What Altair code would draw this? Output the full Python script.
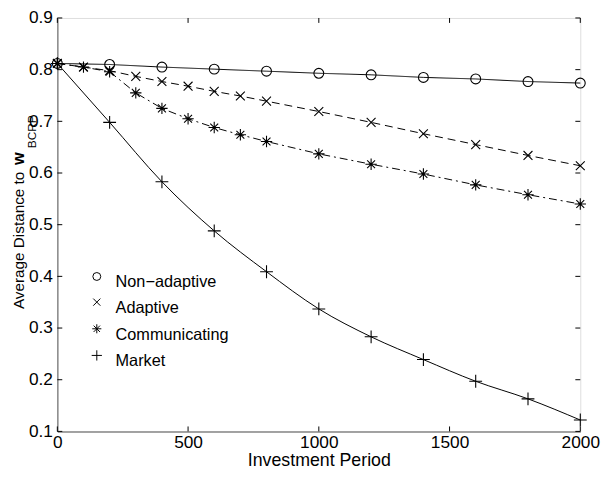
import altair as alt
import pandas as pd

# ---- data ----
x_sparse = [0, 200, 400, 600, 800, 1000, 1200, 1400, 1600, 1800, 2000]
x_dense = [0, 100, 200, 300, 400, 500, 600, 700, 800, 1000, 1200, 1400, 1600, 1800, 2000]

non_adaptive = [0.812, 0.810, 0.805, 0.801, 0.797, 0.793, 0.790, 0.785, 0.782, 0.777, 0.774]
adaptive = [0.812, 0.805, 0.798, 0.787, 0.777, 0.768, 0.758, 0.749, 0.739, 0.719, 0.698, 0.676, 0.655, 0.634, 0.614]
communicating = [0.812, 0.805, 0.796, 0.755, 0.725, 0.705, 0.688, 0.674, 0.661, 0.637, 0.617, 0.598, 0.577, 0.558, 0.540]
market = [0.812, 0.698, 0.583, 0.488, 0.409, 0.337, 0.283, 0.239, 0.197, 0.163, 0.122]

series_names = ["Non\u2212adaptive", "Adaptive", "Communicating", "Market"]
x_ticks = [0, 500, 1000, 1500, 2000]
y_ticks = [0.1, 0.2, 0.3, 0.4, 0.5, 0.6, 0.7, 0.8, 0.9]

rows = []
for xs, ys, name in [(x_sparse, non_adaptive, series_names[0]),
                     (x_dense, adaptive, series_names[1]),
                     (x_dense, communicating, series_names[2]),
                     (x_sparse, market, series_names[3])]:
    for xv, yv in zip(xs, ys):
        rows.append({"period": xv, "dist": yv, "series": name})
df = pd.DataFrame(rows)

W, H = 530, 419
FONT = "Liberation Sans"

shape_range = [
    "circle",
    "M-0.9,-0.9L0.9,0.9M-0.9,0.9L0.9,-0.9",
    "M0,-1.15L0,1.15M-1.15,0L1.15,0M-0.8,-0.8L0.8,0.8M-0.8,0.8L0.8,-0.8",
    "M0,-1.3L0,1.3M-1.3,0L1.3,0",
]
dash_range = [[1, 0], [8, 5], [8, 4, 2, 4], [1, 0]]

xscale = alt.Scale(domain=[0, 2000], nice=False, zero=False)
yscale = alt.Scale(domain=[0.1, 0.9], nice=False, zero=False)

xaxis = alt.Axis(values=x_ticks, ticks=False, grid=False, labelFlush=False, format="d",
                 labelOverlap=False, labelPadding=2, labelFontSize=17.5,
                 title="Investment Period", titleFontSize=18, titleFontWeight="normal",
                 titleBaseline="alphabetic", titleY=35, domainWidth=1.5)
yaxis = alt.Axis(values=y_ticks, ticks=False, grid=False, labelFlush=False,
                 labelOverlap=False, labelPadding=5, labelFontSize=17.5, format=".1f",
                 title=None, domainWidth=1.5)

base = alt.Chart(df)

lines_normal = base.transform_filter(
    alt.datum.series != series_names[3]
).mark_line(color="black", strokeWidth=1).encode(
    x=alt.X("period:Q", scale=xscale, axis=xaxis),
    y=alt.Y("dist:Q", scale=yscale, axis=yaxis),
    strokeDash=alt.StrokeDash("series:N", scale=alt.Scale(domain=series_names, range=dash_range), legend=None),
    detail="series:N",
)

line_market = base.transform_filter(
    alt.datum.series == series_names[3]
).mark_line(color="black", strokeWidth=1, interpolate="monotone").encode(
    x=alt.X("period:Q", scale=xscale),
    y=alt.Y("dist:Q", scale=yscale),
)

points = base.mark_point(filled=False, color="black", strokeWidth=1.1, opacity=1, size=100).encode(
    x=alt.X("period:Q", scale=xscale),
    y=alt.Y("dist:Q", scale=yscale),
    shape=alt.Shape("series:N", scale=alt.Scale(domain=series_names, range=shape_range), legend=None),
)

# inward tick marks on all four sides
xt = pd.DataFrame({"t": x_ticks})
yt = pd.DataFrame({"t": y_ticks})
tick_len = 5
bottom_ticks = alt.Chart(xt).mark_rule(color="black", strokeWidth=1).encode(
    x=alt.X("t:Q", scale=xscale), y=alt.value(H), y2=alt.value(H - tick_len))
top_ticks = alt.Chart(xt).mark_rule(color="black", strokeWidth=1).encode(
    x=alt.X("t:Q", scale=xscale), y=alt.value(0), y2=alt.value(tick_len))
left_ticks = alt.Chart(yt).mark_rule(color="black", strokeWidth=1).encode(
    y=alt.Y("t:Q", scale=yscale), x=alt.value(0), x2=alt.value(tick_len))
right_ticks = alt.Chart(yt).mark_rule(color="black", strokeWidth=1).encode(
    y=alt.Y("t:Q", scale=yscale), x=alt.value(W), x2=alt.value(W - tick_len))

# legend (inside the plot, lower left), built from the series names
legend_layers = []
sym_y = [262, 288, 315, 342]
for i, name in enumerate(series_names):
    d = alt.Data(values=[{"label": name}])
    legend_layers.append(
        alt.Chart(d).mark_point(shape=shape_range[i], size=64, filled=False, color="black",
                                strokeWidth=1, opacity=1)
        .encode(x=alt.value(40), y=alt.value(sym_y[i]))
    )
    legend_layers.append(
        alt.Chart(d).mark_text(align="left", baseline="middle", fontSize=16.5, font=FONT, color="black")
        .encode(text="label:N", x=alt.value(59), y=alt.value(sym_y[i] + 6))
    )

# y-axis title with bold w and subscript BCRP
one = alt.Data(values=[{"k": 1}])
ytitle_main = alt.Chart(one).mark_text(
    angle=270, align="left", baseline="alphabetic", fontSize=15.5, font=FONT, color="black"
).encode(text=alt.value("Average Distance to"), x=alt.value(-34), y=alt.value(295))
ytitle_w = alt.Chart(one).mark_text(
    angle=270, align="left", baseline="alphabetic", fontSize=16.5, font=FONT,
    fontWeight="bold", color="black"
).encode(text=alt.value("w"), x=alt.value(-34), y=alt.value(149))
ytitle_sub = alt.Chart(one).mark_text(
    angle=270, align="left", baseline="alphabetic", fontSize=12, font=FONT, color="black"
).encode(text=alt.value("BCRP"), x=alt.value(-22), y=alt.value(132))

chart = alt.layer(
    lines_normal, line_market, points,
    bottom_ticks, top_ticks, left_ticks, right_ticks,
    *legend_layers,
    ytitle_main, ytitle_w, ytitle_sub,
).properties(
    width=W, height=H,
    autosize=alt.AutoSizeParams(type="none"),
    padding={"left": 50, "top": 7, "right": 22, "bottom": 35},
).configure_view(
    stroke="black", strokeWidth=1
).configure_axis(
    labelFont=FONT, titleFont=FONT, labelColor="black", titleColor="black",
    domainColor="black"
).configure(background="white")

chart.save("out.html", embed_options={"renderer": "svg", "actions": False})
